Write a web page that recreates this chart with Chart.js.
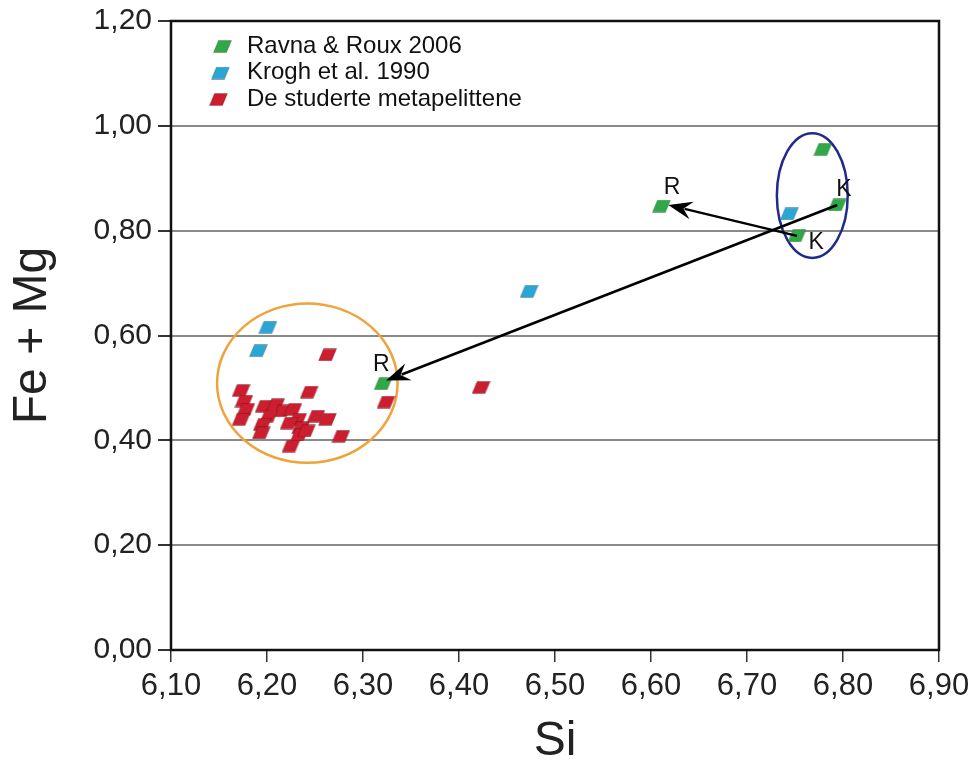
<!DOCTYPE html>
<html>
<head>
<meta charset="utf-8">
<script src="https://cdn.jsdelivr.net/npm/chart.js@4.4.1/dist/chart.umd.min.js"></script>
<style>
    html, body { margin: 0; padding: 0; background: #fff; }
</style>
</head>
<body>
<canvas id="chart" width="978" height="766"></canvas>
<script>

// series names (legend)
const seriesNames = ['Ravna & Roux 2006', 'Krogh et al. 1990', 'De studerte metapelittene']
const seriesColors = ['#2fa845', '#2aa6d6', '#cc1e2e']

// Ravna & Roux 2006
const ravnaSi = [6.779, 6.794, 6.752, 6.611, 6.321]
const ravnaFeMg = [0.955, 0.849, 0.790, 0.847, 0.508]

// Krogh et al. 1990
const kroghSi = [6.744, 6.473, 6.201, 6.191]
const kroghFeMg = [0.832, 0.684, 0.616, 0.571]

// De studerte metapelittene
const pelitSi = [6.263, 6.244, 6.324, 6.423, 6.173, 6.176, 6.178, 6.173, 6.197, 6.209, 6.216, 6.227,
    6.232, 6.202, 6.195, 6.194, 6.223, 6.235, 6.234, 6.241, 6.225, 6.251, 6.263, 6.277]
const pelitFeMg = [0.563, 0.492, 0.473, 0.501, 0.495, 0.475, 0.459, 0.440, 0.465, 0.468, 0.456, 0.459,
    0.440, 0.446, 0.430, 0.414, 0.433, 0.424, 0.411, 0.418, 0.389, 0.446, 0.440, 0.408]

// axis ticks
const siTicks = [6.10, 6.20, 6.30, 6.40, 6.50, 6.60, 6.70, 6.80, 6.90]
const feMgTicks = [0.00, 0.20, 0.40, 0.60, 0.80, 1.00, 1.20]

// arrows: from -> to (data units)
const arrowFromSi = [6.794, 6.752]
const arrowFromFeMg = [0.849, 0.790]
const arrowToSi = [6.324, 6.618]
const arrowToFeMg = [0.514, 0.849]

// point labels
const noteText = ['R', 'K', 'K', 'R']
const noteSi = [6.622, 6.801, 6.772, 6.319]
const noteFeMg = [0.883, 0.879, 0.778, 0.545]

// ellipses round the groups: centre and radii (data units)
const ringColors = ['#efa33a', '#1f2a8c']
const ringSi = [6.242, 6.768]
const ringFeMg = [0.509, 0.867]
const ringRadSi = [0.094, 0.0369]
const ringRadFeMg = [0.152, 0.119]


const FONT = '"Liberation Sans", Arial, sans-serif'


function makeMarker(color) {
    const c = document.createElement('canvas')
    c.width = 19
    c.height = 13
    const ctx = c.getContext('2d')
    ctx.fillStyle = color
    ctx.strokeStyle = 'rgba(0,0,0,0.25)'
    ctx.lineWidth = 0.8
    ctx.beginPath()
    ctx.moveTo(5.5, 0.5)
    ctx.lineTo(18.5, 0.5)
    ctx.lineTo(13.5, 12.5)
    ctx.lineTo(0.5, 12.5)
    ctx.closePath()
    ctx.fill()
    ctx.stroke()
    return c
}

const markers = seriesColors.map(makeMarker)

function toPoints(xs, ys) {
    return xs.map((x, i) => ({x: x, y: ys[i]}))
}


const framePlugin = {
    id: 'frame',
    beforeDatasetsDraw(chart) {
        const {ctx, chartArea: a, scales} = chart
        ctx.save()
        // ellipses
        ringSi.forEach((cx, i) => {
            const px = scales.x.getPixelForValue(cx)
            const py = scales.y.getPixelForValue(ringFeMg[i])
            const rx = Math.abs(scales.x.getPixelForValue(cx + ringRadSi[i]) - px)
            const ry = Math.abs(scales.y.getPixelForValue(ringFeMg[i] + ringRadFeMg[i]) - py)
            ctx.strokeStyle = ringColors[i]
            ctx.lineWidth = 2.5
            ctx.beginPath()
            ctx.ellipse(px, py, rx, ry, 0, 0, Math.PI * 2)
            ctx.stroke()
        })
        // plot frame
        ctx.strokeStyle = '#111'
        ctx.lineWidth = 2.5
        ctx.strokeRect(a.left, a.top, a.right - a.left, a.bottom - a.top)
        ctx.restore()
    },
    afterDatasetsDraw(chart) {
        const {ctx, scales} = chart
        ctx.save()
        // arrows
        ctx.strokeStyle = '#000'
        ctx.fillStyle = '#000'
        ctx.lineWidth = 2.5
        arrowFromSi.forEach((sx, i) => {
            const x0 = scales.x.getPixelForValue(sx)
            const y0 = scales.y.getPixelForValue(arrowFromFeMg[i])
            const x1 = scales.x.getPixelForValue(arrowToSi[i])
            const y1 = scales.y.getPixelForValue(arrowToFeMg[i])
            const ang = Math.atan2(y1 - y0, x1 - x0)
            const len = 24, half = 9
            ctx.beginPath()
            ctx.moveTo(x0, y0)
            ctx.lineTo(x1 - Math.cos(ang) * len * 0.7, y1 - Math.sin(ang) * len * 0.7)
            ctx.stroke()
            ctx.beginPath()
            ctx.moveTo(x1, y1)
            ctx.lineTo(x1 - Math.cos(ang) * len + Math.sin(ang) * half, y1 - Math.sin(ang) * len - Math.cos(ang) * half)
            ctx.lineTo(x1 - Math.cos(ang) * len * 0.65, y1 - Math.sin(ang) * len * 0.65)
            ctx.lineTo(x1 - Math.cos(ang) * len - Math.sin(ang) * half, y1 - Math.sin(ang) * len + Math.cos(ang) * half)
            ctx.closePath()
            ctx.fill()
        })
        // R / K labels
        ctx.font = '23px ' + FONT
        ctx.textAlign = 'center'
        ctx.textBaseline = 'middle'
        ctx.fillStyle = '#111'
        noteText.forEach((t, i) => {
            ctx.fillText(t, scales.x.getPixelForValue(noteSi[i]), scales.y.getPixelForValue(noteFeMg[i]))
        })
        // legend
        ctx.font = '24px ' + FONT
        ctx.textAlign = 'left'
        chart.data.datasets.forEach((ds, i) => {
            const y = 46 + i * 26.5
            ctx.drawImage(markers[i], 213 - i * 2, y - 6)
            ctx.fillText(ds.label, 247, y)
        })
        ctx.restore()
    }
}


new Chart(document.getElementById('chart'), {
    type: 'scatter',
    data: {
        datasets: [
            {label: seriesNames[0], data: toPoints(ravnaSi, ravnaFeMg), pointStyle: markers[0], order: 3},
            {label: seriesNames[1], data: toPoints(kroghSi, kroghFeMg), pointStyle: markers[1], order: 2},
            {label: seriesNames[2], data: toPoints(pelitSi, pelitFeMg), pointStyle: markers[2], order: 1},
        ]
    },
    options: {
        responsive: false,
        animation: false,
        events: [],
        layout: {padding: {top: 19, right: 39, left: 0, bottom: 0}},
        plugins: {
            legend: {display: false},
            tooltip: {enabled: false},
        },
        scales: {
            x: {
                type: 'linear',
                min: siTicks[0],
                max: siTicks[siTicks.length - 1],
                afterBuildTicks: (scale) => { scale.ticks = siTicks.map(v => ({value: v})) },
                afterFit: (scale) => { scale.height = 116 },
                border: {display: false},
                grid: {drawOnChartArea: false, tickLength: 12, tickColor: '#333', lineWidth: 1.5},
                ticks: {
                    padding: 6,
                    color: '#222',
                    font: {family: FONT, size: 31},
                    maxRotation: 0,
                    callback: (v) => Number(v).toFixed(2).replace('.', ','),
                },
                title: {
                    display: true,
                    text: 'Si',
                    color: '#222',
                    font: {family: FONT, size: 48, lineHeight: 1},
                    padding: {top: 0, bottom: 0},
                },
            },
            y: {
                type: 'linear',
                min: feMgTicks[0],
                max: feMgTicks[feMgTicks.length - 1],
                afterBuildTicks: (scale) => { scale.ticks = feMgTicks.map(v => ({value: v})) },
                afterFit: (scale) => { scale.width = 171 },
                border: {display: false},
                grid: {color: '#8a8a8a', lineWidth: 2, tickLength: 13, tickColor: '#333'},
                ticks: {
                    padding: 6,
                    color: '#222',
                    font: {family: FONT, size: 30, lineHeight: 1},
                    callback: (v) => Number(v).toFixed(2).replace('.', ','),
                },
                title: {
                    display: true,
                    text: 'Fe + Mg',
                    color: '#222',
                    font: {family: FONT, size: 48, lineHeight: 1},
                    padding: {top: 9, bottom: 0},
                },
            },
        },
    },
    plugins: [framePlugin],
})
</script>
</body>
</html>
